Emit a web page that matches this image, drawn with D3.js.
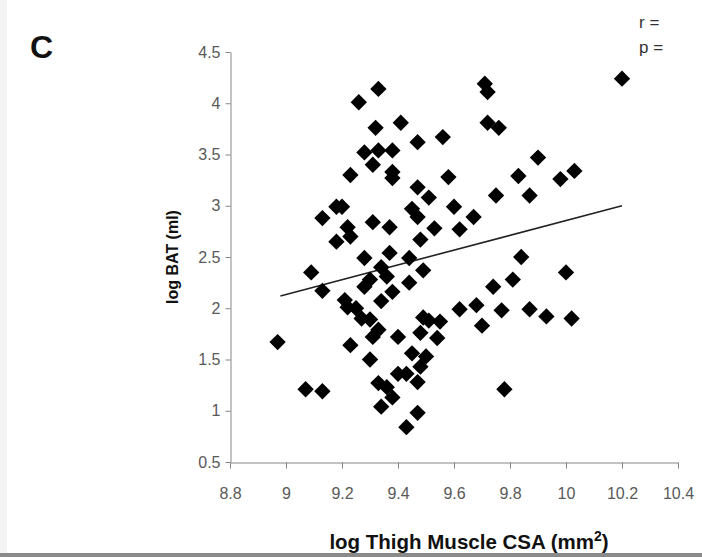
<!DOCTYPE html>
<html>
<head>
<meta charset="utf-8">
<script src="https://cdn.jsdelivr.net/npm/d3@7"></script>
<style>
  html, body { margin: 0; padding: 0; background: #fff; overflow: hidden; }
  svg { display: block; }
</style>
</head>
<body>
<svg width="702" height="557"></svg>
<script>
// values
const thighCSA = [
    9.33, 9.26, 9.32, 9.41, 9.47, 9.56, 9.28, 9.33, 9.38, 9.31,
    9.38, 9.38, 9.23, 9.58, 9.47, 9.51, 9.60, 9.71, 9.72, 9.72,
    9.76, 9.90, 9.83, 9.98, 10.03, 10.20, 9.75, 9.87, 9.45, 9.47,
    9.67, 9.53, 9.62, 9.48, 9.37, 9.31, 9.13, 9.18, 9.20, 9.22,
    9.18, 9.23, 9.28, 9.37, 9.44, 9.34, 9.09, 9.36, 9.30, 9.28,
    9.44, 9.13, 9.38, 9.34, 9.21, 9.22, 9.25, 9.27, 9.30, 9.33,
    9.31, 9.40, 8.97, 9.23, 9.30, 9.40, 9.43, 9.33, 9.36, 9.38,
    9.07, 9.13, 9.34, 9.43, 9.84, 9.49, 9.81, 9.74, 10.00, 9.62,
    9.68, 9.77, 9.87, 9.93, 10.02, 9.70, 9.49, 9.51, 9.55, 9.48,
    9.54, 9.45, 9.50, 9.48, 9.47, 9.78, 9.47
];
const logBAT = [
    4.14, 4.01, 3.76, 3.81, 3.62, 3.67, 3.52, 3.54, 3.54, 3.40,
    3.33, 3.27, 3.30, 3.28, 3.18, 3.08, 2.99, 4.19, 4.11, 3.81,
    3.76, 3.47, 3.29, 3.26, 3.34, 4.24, 3.10, 3.10, 2.97, 2.89,
    2.89, 2.78, 2.77, 2.67, 2.79, 2.84, 2.88, 2.99, 2.99, 2.79,
    2.65, 2.70, 2.49, 2.54, 2.49, 2.40, 2.35, 2.31, 2.28, 2.21,
    2.25, 2.17, 2.16, 2.07, 2.08, 2.01, 2.00, 1.90, 1.89, 1.79,
    1.72, 1.72, 1.67, 1.64, 1.50, 1.36, 1.36, 1.27, 1.23, 1.13,
    1.21, 1.19, 1.04, 0.84, 2.50, 2.37, 2.28, 2.21, 2.35, 1.99,
    2.03, 1.98, 1.99, 1.92, 1.90, 1.83, 1.91, 1.88, 1.87, 1.76,
    1.71, 1.56, 1.53, 1.43, 1.28, 1.21, 0.98
];
const fitX = [8.98, 10.2];
const fitY = [2.12, 3.0];

const xTicks = [8.8, 9, 9.2, 9.4, 9.6, 9.8, 10, 10.2, 10.4];
const xTickLabels = ['8.8', '9', '9.2', '9.4', '9.6', '9.8', '10', '10.2', '10.4'];
const yTicks = [0.5, 1, 1.5, 2, 2.5, 3, 3.5, 4, 4.5];
const yTickLabels = ['0.5', '1', '1.5', '2', '2.5', '3', '3.5', '4', '4.5'];

const svg = d3.select('svg');
const W = 702, H = 557;
const AXIS_COLOUR = '#868686';
const TICK_FONT = '"Liberation Sans", Arial, sans-serif';

// frame of the screenshot
svg.append('rect').attr('x', 0).attr('y', 0).attr('width', 7).attr('height', H).attr('fill', '#f3f3f3');
svg.append('rect').attr('x', 0).attr('y', H - 4).attr('width', W).attr('height', 4).attr('fill', '#8a8a8a');

const x = d3.scaleLinear().domain([8.8, 10.4]).range([230, 678]);
const y = d3.scaleLinear().domain([0.5, 4.5]).range([462, 52]);

const yAxis = svg.append('g')
    .attr('transform', 'translate(230.5,0)')
    .call(d3.axisLeft(y).tickValues(yTicks).tickSize(5).tickSizeOuter(0).tickPadding(5)
        .tickFormat((d, i) => yTickLabels[i]));

const xAxis = svg.append('g')
    .attr('transform', 'translate(0,462.5)')
    .call(d3.axisBottom(x).tickValues(xTicks).tickSize(6).tickSizeOuter(0).tickPadding(19)
        .tickFormat((d, i) => xTickLabels[i]));

[xAxis, yAxis].forEach(g => {
    g.select('.domain').attr('stroke', AXIS_COLOUR);
    g.selectAll('.tick line').attr('stroke', AXIS_COLOUR);
    g.selectAll('.tick text')
        .attr('fill', '#595959')
        .style('font-family', TICK_FONT)
        .style('font-size', '16px');
});

// trend line
svg.append('line')
    .attr('x1', x(fitX[0])).attr('y1', y(fitY[0]))
    .attr('x2', x(fitX[1])).attr('y2', y(fitY[1]))
    .attr('stroke', '#222')
    .attr('stroke-width', 1.6);

// points
const diamond = d3.symbol().type(d3.symbolDiamond2).size(170);
svg.selectAll('path.pt')
    .data(thighCSA.map((v, i) => ({ x: v, y: logBAT[i] })))
    .join('path')
    .attr('class', 'pt')
    .attr('d', diamond)
    .attr('transform', d => `translate(${x(d.x)},${y(d.y)})`)
    .attr('fill', '#000');

// titles
svg.append('text')
    .attr('transform', 'translate(178,257) rotate(-90)')
    .attr('text-anchor', 'middle')
    .style('font-family', '"Liberation Sans", Arial, sans-serif')
    .style('font-weight', 'bold')
    .style('font-size', '16px')
    .attr('fill', '#111')
    .text('log BAT (ml)');

const xt = svg.append('text')
    .attr('x', 469).attr('y', 549)
    .attr('text-anchor', 'middle')
    .style('font-family', '"Liberation Sans", Arial, sans-serif')
    .style('font-weight', 'bold')
    .style('font-size', '20.5px')
    .attr('fill', '#111');
xt.append('tspan').text('log Thigh Muscle CSA (mm');
xt.append('tspan').attr('dy', -8).style('font-size', '14px').text('2');
xt.append('tspan').attr('dy', 8).text(')');

svg.append('text')
    .attr('x', 30).attr('y', 58)
    .style('font-family', '"Liberation Sans", Arial, sans-serif')
    .style('font-weight', 'bold')
    .style('font-size', '32px')
    .attr('fill', '#111')
    .text('C');

// statistics labels (their values fall past the page edge in the reference)
svg.append('text')
    .attr('x', 639).attr('y', 28)
    .style('font-family', TICK_FONT)
    .style('font-size', '17px')
    .attr('fill', '#333')
    .text('r =');

svg.append('text')
    .attr('x', 639).attr('y', 53)
    .style('font-family', TICK_FONT)
    .style('font-size', '17px')
    .attr('fill', '#333')
    .text('p =');
</script>
</body>
</html>
